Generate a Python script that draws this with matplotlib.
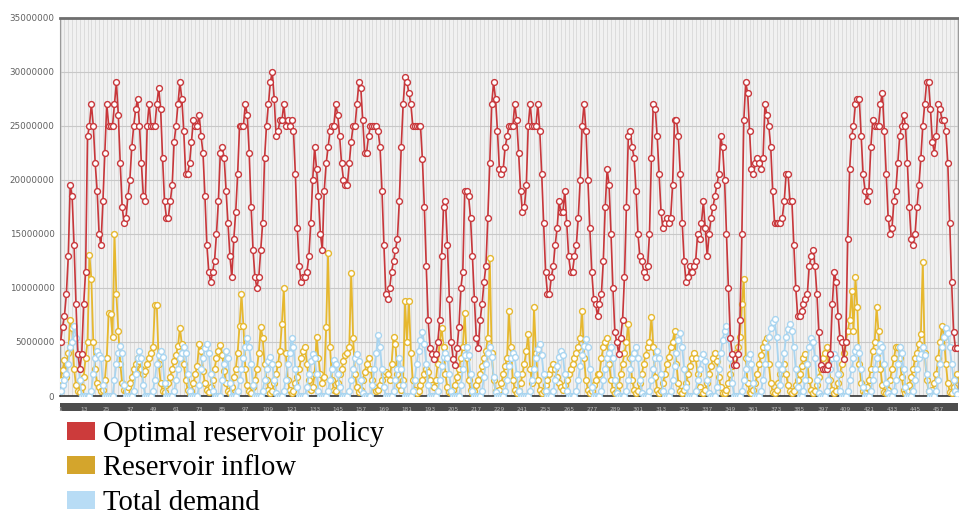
import matplotlib
matplotlib.use("Agg")
import matplotlib.pyplot as plt
from matplotlib.patches import Patch, Rectangle
import numpy as np

# ---- data (values in millions) ----
policy = [
 5, 6.4, 7.4, 9.4, 12.9, 19.5, 18.5, 14, 8.5, 3.9,
 2.5, 3.9, 8.5, 11.5, 24, 25, 27, 25, 21.5, 19,
 15, 14, 18, 22.5, 27, 25, 25, 25, 27, 29,
 26, 21.5, 17.5, 16, 16.5, 18.5, 20, 23, 25, 26.5,
 27.5, 25, 21.5, 18.5, 18, 25, 27, 25, 25, 25,
 27, 28.5, 26.5, 22, 18, 16.5, 16.5, 18, 19.5, 23.5,
 25, 27, 29, 27.5, 24.5, 20.5, 20.5, 21.5, 23.5, 25.5,
 25, 25, 26, 24, 22.5, 18.5, 14, 11.5, 10.5, 11.5,
 12.5, 15, 18, 22.5, 23, 22, 19, 16, 12.9, 11,
 14.5,
 17, 20.5, 25, 25, 25, 27, 26, 22.5, 17.5, 13.5,
 11, 10, 11, 13.5, 16, 22, 25, 27, 29, 30,
 27.5, 24, 24.5, 25.5, 25.5, 27, 25, 25.5, 25, 25.5,
 24.5, 20.5, 15.5, 12, 10.5, 11, 11, 11.5, 12.9, 16,
 20, 23, 21, 18.5, 15, 13.5, 19, 21.5, 23, 24.5,
 25, 25, 27, 26, 24, 21.5, 20, 19.5, 19.5, 21.5,
 23.5, 25, 25, 27, 29, 28.5, 25.5, 22.5, 22.5, 24,
 25, 25, 25, 25, 24.5, 23, 19, 14, 9.4, 9,
 10, 11.5, 12.5, 13.5, 14.5, 18, 23, 27, 29.5, 29,
 28, 27, 25, 25, 25, 25, 25, 21.9, 17.5, 12,
 7, 4.4, 3.9, 3.4, 3.9, 5, 7, 12.9, 17.5, 18,
 14, 9, 5, 3.4, 2.9, 4.4, 6.4, 10, 11.5, 19,
 19, 18.5, 16.5, 12.9, 9, 5.4, 4.4, 7, 8.5, 10.5,
 12, 16.5, 21.5, 27, 29, 27.5, 24.5, 21, 20.5, 21,
 23, 24, 25, 25, 25, 27, 25.5, 22.5, 19, 17,
 17.5, 19.5, 25, 27, 25, 25, 25, 27, 24.5, 20.5,
 16, 11.5, 9.4, 9.4, 11, 12, 14, 15.5, 18, 17,
 17, 19, 16, 12.9, 11.5, 11.5, 12.9, 14, 16.5, 20,
 25, 27, 24.5, 20, 15.5, 11.5, 9, 8.5, 7.4,
 8.5, 9.4, 12.5, 17.5, 21, 19.5, 15, 10, 5.9, 5,
 3.9, 5.4, 7, 11, 17.5, 24, 24.5, 23, 22, 19,
 15, 12.9, 12.5, 11.5, 11, 12, 15, 22, 27, 26.5,
 24, 20.5, 17, 15.5, 16, 16.5, 16, 16.5, 19.5, 25.5,
 25.5, 24, 20.5, 16, 12.5, 10.5, 11, 12, 11.5, 12,
 12.5, 15, 14.5, 16, 18, 15.5, 12.9, 15, 16.5, 17.5,
 18.5, 19.5, 20.5, 24, 23, 20, 15, 10, 5.4, 3.9,
 2.9, 2.9, 3.9, 7, 15, 25.5, 29, 28, 24.5, 21,
 20.5, 21.5, 22, 21.5, 21, 22, 27, 26, 25, 23,
 19, 16, 16, 16, 16,
 16.5, 18, 20.5, 20.5, 18, 18, 14, 10, 7.4, 7.4,
 7.9, 8.5, 9, 9.4, 12, 12.9, 13.5, 12, 9.4, 5.9,
 2.9, 2.5, 2.5, 2.5, 2.9, 3.9, 8.5, 11.5, 10.5, 7.4,
 5.4, 5, 3.4, 5, 14.5, 21, 24, 25, 27, 27.5,
 27.5, 24, 20.5, 19, 18, 19, 23, 25.5, 25, 25,
 25, 27, 28, 24.5, 20.5, 16.5, 15, 15.5, 18, 19,
 21.5, 24, 25, 26, 25, 21.5, 17.5, 14.5, 14, 15,
 17.5, 19.5, 22, 25, 27, 29, 29, 26.5, 23.5, 22.5,
 24, 27, 26.5, 25.5, 25.5, 24.5, 21.5, 16, 10.5, 5.9,
 4.4, 4.4,
]

inflow = [
 1.5, 2.4, 3.3, 1.8, 4, 7, 6.3, 2.5, 1, 0.5, 0.4, 0.8,
 1.8, 3.5, 5, 13, 10.8, 5, 2.5, 1.2, 0.8, 0.5, 0.6, 1.5,
 3.5, 7.7, 7.6, 5.5, 15, 9.4, 6, 3, 1.2, 0.6, 0.5, 0.8,
 1.2, 1.8, 2.5, 3, 3.5, 3.2, 2.5, 2, 2.3, 3, 3.5, 4,
 4.5, 8.4, 8.4, 3, 1.2, 0.5, 0.4, 1, 1.2, 1.8, 2.5, 3.2,
 3.8, 4.6, 6.3, 4.8, 3, 1.5, 0.6, 0.3, 0.5, 1.2, 2, 2.8,
 4.8, 4.2, 2.3, 1.2, 0.6, 0.4, 0.8, 1.5, 2.5, 3.5, 4.2, 4.7,
 3.8, 2.3, 1.2, 0.5, 0.3, 0.8, 1.8,
 2.5, 4, 6.5, 9.4, 6.5, 2.5, 1, 0.5, 0.3, 0.8, 1.5, 2.5,
 4, 6.4, 5.4, 3, 1.5, 0.6, 0.3, 0.5, 1.2, 2, 3, 4.2,
 6.7, 10, 4, 1.5, 0.6, 0.3, 0.5, 1.2, 1.8, 2.5, 3.5, 4.2,
 4.5, 3, 1.5, 0.6, 0.8, 2, 5.5, 3.5, 2, 1.2, 1.8, 6.4,
 13.2, 4.5, 1.5, 0.6, 0.5, 1.2, 2, 2.5, 3.2, 3.8, 4, 4.5,
 11.4, 5.4, 2, 0.8, 0.4, 0.6, 1.5, 2.2, 3, 3.5, 2.5, 1.5,
 0.8, 0.5, 0.6, 1, 1.5, 2, 2.2, 2, 1.5, 3, 5.5, 4.8,
 2, 1, 0.6, 1.5, 8.8, 5,
 8.8, 4, 1.5, 0.6, 0.3, 0.5, 1, 1.5, 2, 2.5, 2.2, 1.5,
 1, 0.8, 1.5, 3, 5, 6.3, 4.5, 2, 0.8, 0.4, 0.3, 0.6,
 1, 1.8, 2.5, 3.5, 4.5, 7.7, 3.5, 1.5, 0.6, 0.3, 0.5, 1,
 1.5, 2, 2.8, 3.5, 4.2, 5.4, 12.8, 4, 1.5, 0.5, 0.3, 0.6,
 1.2, 2, 2.8, 3.5, 7.9, 4.5, 1.5, 0.6, 0.3, 0.5, 1.2, 2,
 3, 4.2, 5.7, 2.5, 1.2, 8.2, 4, 1.5, 0.6, 0.3, 0.5, 1,
 1.5, 2, 2.5, 3, 2.5, 1.8, 1.2, 0.8, 0.6, 1, 1.5, 2,
 2.5, 3, 3.5, 4, 4.5, 5.4, 7.9, 3.5, 1.5, 0.6, 0.3, 0.5,
 1, 1.5, 2,
 2, 3.5, 4.5, 5, 5.4, 3, 1.5, 0.6, 0.3, 0.5, 1, 2,
 3, 4, 5, 6.7, 3.5, 1.5, 0.6, 0.3, 0.5, 1.2, 2, 3,
 3.8, 4.5, 5, 7.3, 4.5, 1.8, 0.6, 0.3, 0.5, 1.2, 2, 3,
 3.6, 4.5, 5, 6, 3, 1.2, 0.5, 0.3, 0.6, 1.2, 2, 2.8,
 3.5, 4, 3.5, 2, 0.8, 0.4, 0.3, 0.6, 1.2, 2, 2.8, 3.5,
 4, 3.2, 1.8, 0.8, 0.3, 0.3, 0.6, 1.2, 2, 2.8, 3.5, 4,
 4.5, 5.5, 8.5, 10.8, 3.5, 1.2, 0.4, 0.3, 0.6, 1.2, 2, 3,
 3.8, 4.5, 5, 5.4, 3, 1.2, 0.4, 0.3, 0.6, 1.2, 2,
 2.5, 3, 2, 1, 0.5, 0.3, 0.5, 1, 1.5, 2, 2.8, 3.5,
 3.9, 3, 1.5, 0.6, 0.3, 0.5, 1, 1.8, 2.5, 3.5, 4, 4.5,
 3, 1.5, 0.6, 0.3, 0.5, 1.2, 2, 3, 4, 5, 6, 7,
 9.7, 6, 11, 8.2, 3, 1.2, 0.5, 0.3, 0.8, 1.5, 2.5, 4.2,
 5, 8.2, 6, 2.5, 1, 0.4, 0.3, 0.6, 1.5, 2.5, 3.5, 4.5,
 4.5, 3.5, 1.8, 0.6, 0.3, 0.5, 1, 1.8, 2.5, 3.5, 4, 4.8,
 5.7, 12.4, 4, 1.5, 0.5, 0.3, 0.6, 1.2, 2, 3.5, 5, 6.5,
 5.5, 3, 1.2, 0.4, 0.3, 0.8, 1.5, 2,
]

demand = [
 0.5, 1, 1.5, 2, 3, 4.5, 5, 6.5, 5.4, 3.8, 1.5, 0,
 0, 0, 0, 0, 0.5, 2, 3.5, 4.2, 3.8, 3.5, 1, 0,
 0, 0, 0, 0, 1.5, 3, 4, 4.6, 4, 1, 0, 0,
 0, 0, 0.5, 2, 3.5, 4.2, 3.5, 1, 0, 0, 0, 0,
 0.5, 1.5, 3, 3.8, 4.2, 3.6, 1.2, 0, 0, 0, 0, 0.5,
 1.5, 2.5, 3.5, 4, 4.5, 4, 2, 0.5, 0, 0, 0, 0,
 1, 2.5, 3.5, 4.4, 4.8, 4, 2, 0.5, 0, 0, 0, 0,
 1.5, 3, 4.2, 3.5, 1.2, 0, 0,
 0, 0.5, 1.5, 2.5, 3.5, 4.5, 5.4, 4.5, 3, 1, 0, 0,
 0, 0, 0.5, 1.5, 2.5, 3.2, 3.6, 3, 1.5, 0.3, 0, 0,
 0, 0.5, 1.5, 3, 4, 5.4, 4.5, 2.5, 0.8, 0, 0, 0,
 0, 0.8, 2, 3.2, 3.9, 3.5, 2, 0.5, 0, 0, 0, 0,
 0.5, 1.5, 2.5, 3.3, 3, 2, 0.8, 0, 0, 0, 0, 0.5,
 1.5, 2.5, 3.5, 3.9, 3.2, 1.5, 0.3, 0, 0, 0, 0, 1,
 2.5, 4, 5.6, 4.5, 2.5, 0.8, 0, 0, 0, 0, 0.5, 1.5,
 2.5, 3.5, 2.5, 1, 0, 0,
 0, 0, 0.5, 1.5, 3, 4.2, 5.2, 5.9, 4.8, 3, 1, 0,
 0, 0, 0, 0.5, 1.5, 2.8, 3.6, 4, 3.5, 2, 0.5, 0,
 0, 0, 0, 1, 2.5, 3.8, 4.5, 3.8, 2, 0.5, 0, 0,
 0, 0, 0.5, 1.8, 3, 4, 4.5, 3.6, 1.8, 0.4, 0, 0,
 0, 0, 0.5, 1.5, 2.8, 3.5, 4, 3.6, 2, 0.5, 0, 0,
 0, 0, 0, 0.5, 1.5, 2.5, 3.5, 4.3, 4.8, 3.8, 2, 0.5,
 0, 0, 0, 0.5, 1.5, 2.8, 3.6, 4.2, 3.8, 2, 0.5, 0,
 0, 0, 0, 0.5, 1.5, 2.8, 3.8, 4.6, 5.3, 4.5, 2.5, 0.8,
 0, 0, 0,
 0, 0.5, 1.5, 2.5, 3.5, 4, 4.5, 3.5, 1.5, 0.3, 0, 0,
 0, 0, 0.5, 1.5, 2.5, 3.5, 4, 4.5, 3.5, 1.5, 0.3, 0,
 0, 0, 0.5, 1.5, 2.5, 3.5, 4.2, 3.5, 2, 0.5, 0, 0,
 0, 0.5, 1.5, 2.8, 4, 5.2, 5.8, 4.5, 2.5, 0.8, 0, 0,
 0, 0, 0.5, 1.5, 2.5, 3.5, 3.9, 3.2, 1.5, 0.3, 0, 0,
 0, 0.8, 2.5, 4, 5.2, 6, 6.5, 5.4, 3.5, 1.2, 0, 0,
 0, 0, 0.5, 1.5, 2.5, 3.5, 3.9, 3, 1.2, 0, 0, 0,
 0.5, 1.5, 3, 4.5, 5.5, 6.3, 6.8, 7.1, 5.5, 3, 1,
 2.5, 4, 5.5, 6.2, 6.7, 6, 4.5, 2.5, 0.8, 0, 0, 0.5,
 1.5, 3, 4.5, 5.4, 5, 3.5, 1.5, 0.3, 0, 0, 0, 0.5,
 1.5, 2.5, 3.5, 3.9, 3.5, 2, 0.5, 0, 0, 0, 0.5, 1.5,
 2.5, 3.5, 4.2, 4.5, 4, 2.5, 0.8, 0, 0, 0, 0.5, 1.5,
 2.5, 3.5, 4.2, 4.8, 4.5, 3, 1.2, 0.3, 0, 0, 0.5, 1.5,
 3, 4.5, 4, 2.5, 0.8, 0, 0, 0, 0.5, 1.5, 2.5, 3.5,
 3.9, 4.5, 3.8, 2, 0.5, 0, 0, 0, 0.5, 1.5, 3, 4.5,
 5.5, 6.3, 5.8, 4.5, 3, 1.5, 0.5, 0.2,
]

labels = ["Optimal reservoir policy", "Reservoir inflow", "Total demand"]
yticks = [0, 5000000, 10000000, 15000000, 20000000, 25000000, 30000000, 35000000]

n = min(len(policy), len(inflow), len(demand))
x = np.arange(n)
scale = 1e6
red = np.array(policy[:n]) * scale
yel = np.array(inflow[:n]) * scale
blu = np.array(demand[:n]) * scale

RED = "#c8373b"
YEL = "#e6b82f"
BLU = "#a9d5f0"

fig = plt.figure(figsize=(9.59, 5.12), dpi=100)
ax_h = (396 - 17.5) / 512
ax = fig.add_axes([60/959, 1 - 396/512, (958-60)/959, ax_h])
ax.set_facecolor("#f1f1f1")

for i in range(0, n, 2):
    ax.axvline(i, color="#d9d9d9", lw=0.6, zorder=0)
ax.set_yticks(yticks)
ax.yaxis.grid(True, color="#c8c8c8", lw=0.8, zorder=1)
ax.set_axisbelow(True)

mk = dict(marker="o", markersize=4.2, markerfacecolor="white", markeredgewidth=1.0)
ax.plot(x, yel, color=YEL, lw=1.3, markeredgecolor=YEL, zorder=3, **mk)
ax.plot(x, blu, color=BLU, lw=1.3, markeredgecolor=BLU, zorder=4, **mk)
ax.plot(x, red, color=RED, lw=1.2, markeredgecolor=RED, zorder=5, **mk)

ax.set_xlim(-0.3, n - 0.7)
ax.set_ylim(0, 35000000)
ax.set_yticklabels([str(v) for v in yticks], fontsize=6.3, color="#606060")
ax.tick_params(axis="y", length=0, pad=4)

# dark category-label strip under the axis (labels are illegible in the source)
px = 1.0 / (ax_h * 512)
ax.add_patch(Rectangle((0, -15 * px), 1, 8 * px, transform=ax.transAxes,
                       facecolor="#4d4d4d", edgecolor="none", clip_on=False, zorder=6))
xt = list(range(0, n, 12))
ax.set_xticks(xt)
ax.set_xticklabels([str(i + 1) for i in xt], fontsize=4.2, color="#bdbdbd")
ax.tick_params(axis="x", length=0, pad=8)
ax.xaxis.set_zorder(7)

for s in ["left", "right"]:
    ax.spines[s].set_color("#9a9a9a")
    ax.spines[s].set_linewidth(0.8)
ax.spines["top"].set_color("#6e6e6e")
ax.spines["top"].set_linewidth(2)
ax.spines["bottom"].set_color("#333333")
ax.spines["bottom"].set_linewidth(1.2)

handles = [Patch(facecolor="#cc3b3b", edgecolor="none"),
           Patch(facecolor="#d4a52c", edgecolor="none"),
           Patch(facecolor="#b8dcf5", edgecolor="none")]
fig.legend(handles, labels, loc="upper left", bbox_to_anchor=(61/959, 1 - 415/512),
           frameon=False, prop={"family": "Liberation Serif", "size": 20.6},
           handlelength=1.0, handleheight=0.6, handletextpad=0.28, labelspacing=0.3,
           borderpad=0.2, borderaxespad=0)

fig.savefig("out.png", dpi=100)
